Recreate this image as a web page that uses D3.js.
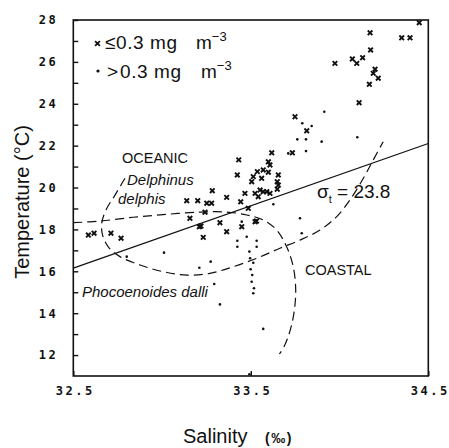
<!DOCTYPE html>
<html><head><meta charset="utf-8">
<script src="https://cdn.jsdelivr.net/npm/d3@7"></script>
<style>body{margin:0;background:#fff}svg{display:block}</style>
</head><body>
<svg id="c" width="449" height="448"></svg>
<script>
// ---- data (salinity ‰, temperature °C) ----
const xTicks = [32.5, 33.5, 34.5];
const yTicks = [12,13,14,15,16,17,18,19,20,21,22,23,24,25,26,27,28];
const lowChl = [ // x : <= 0.3 mg m-3
 [32.585,17.73],[32.617,17.82],[32.712,17.82],[32.769,17.58],
 [33.139,19.37],[33.201,19.37],[33.252,19.25],[33.279,19.25],[33.283,19.85],
 [33.157,18.53],[33.21,18.13],[33.219,18.16],[33.232,17.62],[33.242,18.82],
 [33.326,18.32],[33.364,19.53],[33.364,17.89],[33.424,20.60],[33.432,21.32],
 [33.443,19.32],[33.449,18.13],[33.467,19.72],[33.486,19.01],[33.505,20.28],
 [33.514,20.52],[33.524,19.72],[33.537,20.76],[33.542,19.56],[33.552,19.88],
 [33.561,20.44],[33.570,20.84],[33.570,19.80],[33.590,19.80],[33.599,21.23],
 [33.608,21.08],[33.599,20.73],[33.608,19.72],[33.618,21.66],[33.649,20.28],
 [33.655,20.60],[33.655,20.12],[33.649,19.92],[33.524,18.37],[33.532,18.40],
 [33.734,21.66],[33.749,23.38],[33.815,22.71],[33.974,25.93],[34.072,26.14],
 [34.097,25.93],[34.130,26.20],[34.172,27.39],[34.175,26.57],[34.200,25.65],
 [34.190,25.45],[34.218,25.22],[34.168,24.93],[34.110,24.05],[34.350,27.15],
 [34.397,27.15],[34.449,27.87]
];
const highChl = [ // dots : > 0.3 mg m-3
 [32.801,16.70],[33.011,16.89],[33.210,16.17],[33.274,16.46],[33.294,15.39],
 [33.326,14.42],[33.424,17.46],[33.424,17.17],[33.477,17.65],[33.533,17.46],
 [33.533,17.17],[33.492,16.94],[33.496,16.62],[33.514,16.41],[33.499,16.10],
 [33.508,15.82],[33.505,15.50],[33.518,15.19],[33.514,14.95],[33.570,13.25],
 [33.492,11.08],[33.777,18.53],[33.787,17.82],[33.627,19.20],[33.711,21.63],
 [33.449,18.37],[33.762,22.30],[33.790,23.07],[33.843,22.94],[33.811,22.30],
 [33.811,21.74],[33.899,22.19],[33.914,23.62],[34.100,22.40]
];
const sigmaLine = [[32.5,16.15],[34.5,22.1]];
const delphinusCurve = [
 [32.791,20.44],[32.735,19.64],[32.684,18.93],[32.660,18.29],[32.665,17.73],
 [32.697,17.17],[32.763,16.70],[32.876,16.30],[33.007,15.98],[33.139,15.82],
 [33.270,15.90],[33.401,16.22],[33.533,16.62],[33.664,17.10],[33.777,17.49],
 [33.890,17.97],[33.984,18.61],[34.059,19.41],[34.134,20.44],[34.190,21.32],
 [34.246,22.19]
];
const dalliCurve = [
 [32.500,18.32],[32.650,18.40],[32.838,18.58],[33.026,18.72],[33.214,18.83],
 [33.364,18.83],[33.477,18.69],[33.570,18.45],[33.646,17.97],[33.702,17.17],
 [33.739,16.22],[33.753,15.11],[33.743,14.00],[33.717,13.04],[33.687,12.40],
 [33.661,12.05]
];

// ---- chart ----
const svg = d3.select("#c");
const L = 73.3, R = 428.3, T = 20, B = 376;
const x = d3.scaleLinear().domain([32.5, 34.5]).range([L, R]);
const y = d3.scaleLinear().domain([11, 28]).range([B, T]);
const ink = "#111";

svg.append("rect").attr("x", L).attr("y", T).attr("width", R - L).attr("height", B - T)
  .attr("fill", "none").attr("stroke", ink).attr("stroke-width", 1.6);

const tickFont = g => g.selectAll("text")
  .attr("font-family", "DejaVu Sans Mono").attr("font-weight", "bold")
  .attr("font-size", 12).attr("letter-spacing", 2.5).attr("fill", ink);

const yAxis = svg.append("g").attr("transform", `translate(${L},0)`)
  .call(d3.axisLeft(y).tickValues(yTicks).tickSizeInner(-5).tickSizeOuter(0).tickPadding(15)
    .tickFormat(d => d % 2 === 0 ? String(d) : ""));
yAxis.select(".domain").remove();
yAxis.selectAll("line").attr("stroke", ink).attr("stroke-width", 1.4);
yAxis.call(tickFont);

const xAxis = svg.append("g").attr("transform", `translate(0,${B})`)
  .call(d3.axisBottom(x).tickValues(xTicks).tickSizeInner(-5).tickSizeOuter(0).tickPadding(10)
    .tickFormat(d3.format(".1f")));
xAxis.select(".domain").remove();
xAxis.selectAll("line").attr("stroke", ink).attr("stroke-width", 1.4);
xAxis.call(tickFont);
xAxis.selectAll("text").attr("dx", 1.5);

// sigma-t line
svg.append("path").datum(sigmaLine)
  .attr("d", d3.line().x(d => x(d[0])).y(d => y(d[1])))
  .attr("fill", "none").attr("stroke", ink).attr("stroke-width", 1.2);

// dashed curves
const curve = d3.line().x(d => x(d[0])).y(d => y(d[1])).curve(d3.curveCatmullRom);
[delphinusCurve, dalliCurve].forEach(c => {
  svg.append("path").datum(c).attr("d", curve)
    .attr("fill", "none").attr("stroke", ink).attr("stroke-width", 1.2)
    .attr("stroke-dasharray", "9,5");
});

// markers
const cross = (g, cx, cy, s, w) => g.append("path")
  .attr("d", `M${cx-s},${cy-s}L${cx+s},${cy+s}M${cx-s},${cy+s}L${cx+s},${cy-s}`)
  .attr("stroke", ink).attr("stroke-width", w).attr("fill", "none");
const gx = svg.append("g");
lowChl.forEach(d => cross(gx, x(d[0]), y(d[1]), 2.3, 1.9));
svg.append("g").selectAll("circle").data(highChl).join("circle")
  .attr("cx", d => x(d[0])).attr("cy", d => y(d[1])).attr("r", 1.3).attr("fill", ink);

// legend
cross(svg, 97.5, 43.5, 2.4, 1.8);
svg.append("circle").attr("cx", 98).attr("cy", 71).attr("r", 1.6).attr("fill", ink);
const lf = "Liberation Sans";
const leg1 = svg.append("text").attr("x", 105).attr("y", 48.5).attr("font-family", lf).attr("font-size", 19).attr("fill", ink);
leg1.append("tspan").text("≤");
leg1.append("tspan").attr("x", 116).attr("letter-spacing", 0.6).text("0.3 mg");
leg1.append("tspan").attr("x", 196).text("m");
leg1.append("tspan").attr("dy", -8).attr("font-size", 13).text("−3");
const leg2 = svg.append("text").attr("x", 107).attr("y", 78).attr("font-family", lf).attr("font-size", 19).attr("fill", ink);
leg2.append("tspan").text(">");
leg2.append("tspan").attr("x", 120).attr("letter-spacing", 0.6).text("0.3 mg");
leg2.append("tspan").attr("x", 201).text("m");
leg2.append("tspan").attr("dy", -8).attr("font-size", 13).text("−3");

// annotations
const ann = (t, xx, yy, size, italic) => svg.append("text").attr("x", xx).attr("y", yy)
  .attr("font-family", lf).attr("font-size", size).attr("font-style", italic ? "italic" : "normal")
  .attr("fill", ink).text(t);
ann("OCEANIC", 122, 163, 14.5, false);
ann("Delphinus", 127, 185, 15, true);
ann("delphis", 118, 204, 15, true);
ann("COASTAL", 305, 275, 14.5, false);
ann("Phocoenoides dalli", 82, 297, 15, true);
const sg = svg.append("text").attr("x", 317).attr("y", 198).attr("font-family", lf).attr("font-size", 19).attr("fill", ink);
sg.append("tspan").text("σ");
sg.append("tspan").attr("dy", 5).attr("font-size", 11).text("t");
sg.append("tspan").attr("dy", -5).text(" = 23.8");

// axis titles
svg.append("text").attr("transform", "translate(29,202) rotate(-90)").attr("text-anchor", "middle")
  .attr("font-family", lf).attr("font-size", 20).attr("fill", ink).text("Temperature (°C)");
const xt = svg.append("text").attr("x", 183).attr("y", 443).attr("font-family", lf).attr("font-size", 20).attr("fill", ink);
xt.append("tspan").text("Salinity");
xt.append("tspan").attr("x", 265).attr("font-size", 14).attr("font-weight", "bold").attr("letter-spacing", 1.5).text("(‰)");
</script>
</body></html>
